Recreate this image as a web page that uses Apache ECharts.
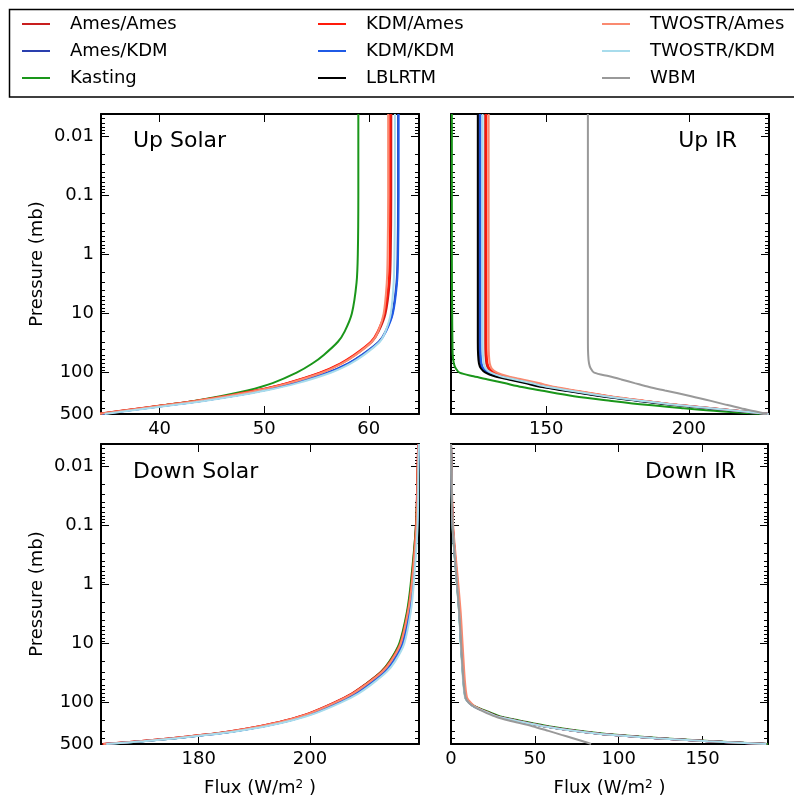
<!DOCTYPE html>
<html>
<head>
<meta charset="utf-8">
<style>
  html, body { margin: 0; padding: 0; background: #fff; }
  #chart { width: 794px; height: 800px; }
</style>
<script src="https://cdn.jsdelivr.net/npm/echarts@6/dist/echarts.min.js"></script>
</head>
<body>
<div id="chart"></div>
<script>
// legend order (alphabetical, like the original plot)
const seriesNames = ['Ames/Ames', 'Ames/KDM', 'Kasting', 'KDM/Ames', 'KDM/KDM', 'LBLRTM', 'TWOSTR/Ames', 'TWOSTR/KDM', 'WBM']
const seriesColors = ['#c81e1e', '#2a3fae', '#1a961a', '#ff1a0a', '#1f5ae6', '#000000', '#fa8a70', '#a8dcec', '#999999']

// pressure levels (mb) used by each panel
const solarPressure = [0.0042, 0.01, 0.1, 1, 3, 10, 20, 30, 50, 70, 100, 150, 200, 250, 300, 350, 400, 450, 500]
const upIrPressure = [0.0042, 0.01, 0.1, 1, 10, 30, 50, 70, 85, 100, 115, 130, 150, 175, 200, 250, 300, 350, 400, 450, 500]
const downIrPressure = [0.0042, 0.01, 0.1, 1, 3, 10, 30, 50, 70, 85, 100, 115, 130, 150, 175, 200, 250, 300, 350, 400, 450, 500]

// flux (W/m2)
const upSolarFlux = {
  'Ames/Ames': [62.15, 62.15, 62.15, 62.1, 62.0, 61.6, 60.95, 60.3, 58.7, 57.35, 55.4, 52.25, 49.25, 46.25, 43.45, 40.75, 38.25, 36.05, 34.1],
  'Ames/KDM': [62.8, 62.8, 62.8, 62.75, 62.65, 62.25, 61.6, 60.95, 59.35, 58.0, 56.05, 52.9, 49.85, 46.8, 43.95, 41.2, 38.65, 36.4, 34.45],
  'Kasting': [59.0, 59.0, 59.0, 58.95, 58.83, 58.38, 57.7, 57.05, 55.7, 54.6, 53.1, 50.8, 48.4, 45.8, 43.3, 40.7, 38.4, 36.2, 34.2],
  'KDM/Ames': [62.05, 62.05, 62.05, 62.0, 61.9, 61.5, 60.85, 60.2, 58.6, 57.25, 55.3, 52.15, 49.15, 46.15, 43.35, 40.65, 38.15, 35.95, 34.0],
  'KDM/KDM': [62.85, 62.85, 62.85, 62.8, 62.7, 62.3, 61.65, 61.0, 59.4, 58.05, 56.1, 52.95, 49.9, 46.85, 44.0, 41.25, 38.7, 36.45, 34.5],
  'TWOSTR/Ames': [61.85, 61.85, 61.85, 61.8, 61.72, 61.42, 60.9, 60.3, 58.75, 57.42, 55.5, 52.35, 49.35, 46.35, 43.5, 40.8, 38.3, 36.1, 34.15],
  'TWOSTR/KDM': [62.5, 62.5, 62.5, 62.45, 62.38, 62.1, 61.6, 61.05, 59.55, 58.25, 56.35, 53.2, 50.15, 47.1, 44.25, 41.5, 38.95, 36.7, 34.75]
}

const upIrFlux = {
  'Ames/Ames': [128.6, 128.6, 128.6, 128.6, 128.6, 128.6, 128.7, 129.0, 129.7, 131.5, 135.0, 140.0, 145.7, 151.6, 158.8, 171.4, 184.1, 195.6, 207.8, 218.7, 228.0],
  'Ames/KDM': [126.5, 126.5, 126.5, 126.5, 126.5, 126.5, 126.6, 126.9, 127.6, 129.4, 132.8, 137.8, 143.5, 149.6, 157.0, 170.0, 183.0, 194.7, 207.1, 218.2, 228.0],
  'Kasting': [116.9, 116.9, 116.9, 116.9, 117.0, 117.1, 117.2, 117.6, 118.3, 119.6, 124.5, 129.5, 135.3, 141.5, 148.1, 159.7, 172.9, 185.0, 198.1, 210.8, 226.0],
  'KDM/Ames': [129.0, 129.0, 129.0, 129.0, 129.0, 129.0, 129.1, 129.4, 130.1, 131.9, 135.4, 140.4, 146.1, 152.0, 159.1, 171.7, 184.3, 195.8, 207.9, 218.8, 228.0],
  'KDM/KDM': [126.9, 126.9, 126.9, 126.9, 126.9, 126.9, 127.0, 127.3, 128.0, 129.8, 133.2, 138.2, 143.9, 150.0, 157.4, 170.3, 183.2, 194.9, 207.3, 218.3, 228.0],
  'LBLRTM': [126.0, 126.0, 126.0, 126.0, 126.0, 126.0, 126.1, 126.4, 127.1, 128.7, 131.9, 136.8, 142.5, 148.6, 156.1, 169.2, 182.3, 194.1, 206.7, 217.9, 228.0],
  'TWOSTR/Ames': [129.8, 129.8, 129.8, 129.8, 129.8, 129.8, 129.9, 130.2, 130.9, 132.8, 136.5, 141.6, 147.3, 153.1, 160.1, 172.4, 184.9, 196.2, 208.2, 219.0, 228.0],
  'TWOSTR/KDM': [127.7, 127.7, 127.7, 127.7, 127.7, 127.7, 127.8, 128.1, 128.8, 130.6, 134.0, 139.0, 144.7, 150.7, 158.0, 170.8, 183.6, 195.2, 207.5, 218.5, 228.0],
  'WBM': [164.6, 164.6, 164.6, 164.6, 164.6, 164.6, 164.7, 165.0, 165.6, 166.8, 172.1, 176.3, 181.0, 186.1, 191.6, 200.8, 207.7, 213.2, 218.2, 223.1, 227.5]
}

const downSolarFlux = {
  'Ames/Ames': [219.45, 219.35, 219.05, 218.2, 217.5, 216.15, 214.35, 212.8, 209.8, 207.5, 204.3, 199.9, 195.5, 190.9, 186.0, 180.7, 175.1, 169.2, 162.7],
  'Ames/KDM': [219.55, 219.45, 219.25, 218.45, 217.85, 216.65, 214.95, 213.45, 210.55, 208.3, 205.1, 200.7, 196.3, 191.7, 186.7, 181.4, 175.8, 169.8, 163.1],
  'Kasting': [219.5, 219.4, 219.05, 218.1, 217.4, 216.05, 214.3, 212.8, 209.9, 207.7, 204.6, 200.3, 196.0, 191.45, 186.6, 181.3, 175.8, 169.9, 163.5],
  'KDM/Ames': [219.45, 219.35, 219.1, 218.25, 217.55, 216.25, 214.45, 212.9, 209.9, 207.6, 204.4, 200.0, 195.6, 191.0, 186.1, 180.8, 175.2, 169.3, 162.8],
  'KDM/KDM': [219.55, 219.45, 219.25, 218.5, 217.9, 216.7, 215.0, 213.5, 210.6, 208.35, 205.2, 200.8, 196.4, 191.8, 186.8, 181.5, 175.9, 169.9, 163.2],
  'TWOSTR/Ames': [219.5, 219.4, 219.15, 218.3, 217.6, 216.3, 214.55, 213.0, 210.0, 207.7, 204.5, 200.1, 195.7, 191.1, 186.2, 180.9, 175.3, 169.4, 162.9],
  'TWOSTR/KDM': [219.6, 219.5, 219.35, 218.65, 218.1, 216.95, 215.3, 213.8, 210.95, 208.7, 205.55, 201.1, 196.7, 192.1, 187.1, 181.7, 176.1, 170.1, 163.4]
}

const downIrFlux = {
  'Ames/Ames': [0.0, 0.2, 1.1, 3.9, 5.2, 6.2, 7.3, 7.9, 8.5, 9.1, 11.1, 13.8, 17.6, 23.1, 29.0, 38.7, 55.6, 74.8, 95.5, 122.7, 153.9, 188.0],
  'Ames/KDM': [0.0, 0.2, 1.0, 3.7, 5.0, 6.0, 7.1, 7.7, 8.3, 8.9, 10.9, 13.6, 17.4, 22.9, 28.8, 38.5, 55.4, 74.6, 95.3, 122.5, 153.7, 188.0],
  'Kasting': [0.0, 0.2, 0.9, 3.6, 4.9, 5.9, 7.0, 7.6, 8.2, 8.8, 11.0, 14.3, 18.5, 24.3, 30.6, 40.6, 58.0, 77.5, 98.5, 125.8, 156.5, 189.0],
  'KDM/Ames': [0.0, 0.2, 1.1, 3.9, 5.2, 6.2, 7.3, 7.9, 8.5, 9.1, 11.2, 13.9, 17.7, 23.2, 29.1, 38.8, 55.7, 74.9, 95.6, 122.8, 154.0, 188.0],
  'KDM/KDM': [0.0, 0.2, 1.0, 3.7, 5.0, 6.0, 7.1, 7.7, 8.3, 8.9, 10.8, 13.5, 17.3, 22.8, 28.7, 38.4, 55.3, 74.5, 95.2, 122.4, 153.6, 188.0],
  'LBLRTM': [0.0, 0.2, 1.0, 3.8, 5.1, 6.1, 7.2, 7.8, 8.4, 9.0, 11.0, 13.7, 17.5, 23.0, 28.9, 38.6, 55.5, 74.7, 95.4, 122.6, 153.8, 188.0],
  'TWOSTR/Ames': [0.0, 0.3, 1.3, 4.4, 5.8, 6.9, 7.9, 8.5, 9.1, 9.8, 11.8, 14.1, 17.6, 22.8, 28.6, 38.3, 55.2, 74.4, 95.1, 122.3, 153.5, 188.0],
  'TWOSTR/KDM': [0.0, 0.2, 0.9, 3.5, 4.8, 5.8, 6.8, 7.4, 8.0, 8.6, 10.6, 13.3, 17.1, 22.5, 28.4, 38.0, 54.8, 74.0, 94.7, 122.0, 153.3, 188.0],
  'WBM': [0.0, 0.2, 1.0, 3.6, 4.9, 6.0, 7.0, 7.6, 8.2, 8.8, 10.6, 13.3, 16.6, 21.3, 27.2, 34.5, 48.5, 58.1, 65.9, 72.7, 78.6, 83.5]
}

// axis ticks
const pressureTicks = [0.01, 0.1, 1, 10, 100]
const pressureLabels = [0.01, 0.1, 1, 10, 100, 500]
const pressureMinorTicks = [
  0.005, 0.006, 0.007, 0.008, 0.009,
  0.02, 0.03, 0.04, 0.05, 0.06, 0.07, 0.08, 0.09,
  0.2, 0.3, 0.4, 0.5, 0.6, 0.7, 0.8, 0.9,
  2, 3, 4, 5, 6, 7, 8, 9,
  20, 30, 40, 50, 60, 70, 80, 90,
  200, 300, 400
]
const upSolarTicks = [40, 50, 60]
const upIrTicks = [150, 200]
const downSolarTicks = [180, 200]
const downIrTicks = [0, 50, 100, 150]

const FONT = 'DejaVu Sans'
const P_MIN = 0.0042
const P_MAX = 500

const panels = [
  { title: 'Up Solar', flux: upSolarFlux, pressure: solarPressure, xMin: 34.4, xMax: 64.8, ticks: upSolarTicks,
    grid: { left: 101, top: 114, width: 318, height: 300 }, yName: true, xName: false },
  { title: 'Up IR', flux: upIrFlux, pressure: upIrPressure, xMin: 116.6, xMax: 228.1, ticks: upIrTicks,
    grid: { left: 451, top: 114, width: 318, height: 300 }, yName: false, xName: false },
  { title: 'Down Solar', flux: downSolarFlux, pressure: solarPressure, xMin: 162.45, xMax: 219.6, ticks: downSolarTicks,
    grid: { left: 101, top: 444, width: 318, height: 300 }, yName: true, xName: true },
  { title: 'Down IR', flux: downIrFlux, pressure: downIrPressure, xMin: 0, xMax: 189, ticks: downIrTicks,
    grid: { left: 451, top: 444, width: 317, height: 300 }, yName: false, xName: true }
]

const frameLine = { show: true, lineStyle: { color: '#000', width: 2 } }
const tickStyle = { color: '#000', width: 1 }

const xAxes = []
const yAxes = []
const series = []

panels.forEach((p, i) => {
  const xBase = {
    gridIndex: i, type: 'value', min: p.xMin, max: p.xMax,
    splitLine: { show: false }, axisLine: frameLine
  }
  xAxes.push({
    ...xBase,
    position: 'bottom',
    axisTick: { show: true, inside: true, length: 8, customValues: p.ticks, lineStyle: tickStyle },
    axisLabel: { show: true, customValues: p.ticks, margin: 6, fontSize: 18, color: '#000', fontFamily: FONT },
    name: p.xName ? 'Flux (W/m{sup|2} )' : '',
    nameLocation: 'middle',
    nameGap: 35,
    nameTextStyle: {
      fontSize: 18, color: '#000', fontFamily: FONT, verticalAlign: 'top',
      rich: { sup: { fontSize: 12, color: '#000', fontFamily: FONT, verticalAlign: 'top' } }
    }
  })
  xAxes.push({
    ...xBase,
    position: 'top',
    axisTick: { show: true, inside: true, length: 8, customValues: p.ticks, lineStyle: tickStyle },
    axisLabel: { show: false }
  })

  const yBase = {
    gridIndex: i, type: 'log', logBase: 10, inverse: true, min: P_MIN, max: P_MAX,
    splitLine: { show: false }, minorTick: { show: false }
  }
  ;['left', 'right'].forEach((side) => {
    yAxes.push({
      ...yBase,
      position: side,
      axisLine: frameLine,
      axisTick: { show: true, inside: true, length: 8, customValues: pressureTicks, lineStyle: tickStyle },
      axisLabel: {
        show: side === 'left' && p.yName,
        customValues: pressureLabels,
        showMinLabel: true,
        showMaxLabel: true,
        margin: 7,
        fontSize: 18,
        color: '#000',
        fontFamily: FONT,
        formatter: (v) => String(+Number(v).toPrecision(4))
      },
      name: side === 'left' && p.yName ? 'Pressure (mb)' : '',
      nameLocation: 'middle',
      nameGap: 55,
      nameTextStyle: { fontSize: 18, color: '#000', fontFamily: FONT }
    })
    yAxes.push({
      ...yBase,
      position: side,
      axisLine: { show: false },
      axisTick: { show: true, inside: true, length: 4, customValues: pressureMinorTicks, lineStyle: tickStyle },
      axisLabel: { show: false }
    })
  })

  seriesNames.forEach((name, k) => {
    const values = p.flux[name]
    if (!values) return
    series.push({
      type: 'line',
      name,
      xAxisIndex: i * 2,
      yAxisIndex: i * 4,
      data: p.pressure.map((pr, j) => [values[j], pr]),
      symbol: 'none',
      smooth: 0.3,
      color: seriesColors[k],
      lineStyle: { color: seriesColors[k], width: 2 },
      itemStyle: { color: seriesColors[k] },
      silent: true,
      animation: false
    })
  })
})

const legendLefts = [22, 318, 602]

const option = {
  backgroundColor: '#fff',
  animation: false,
  textStyle: { fontFamily: FONT },
  title: [
    { text: 'Up Solar', left: 133, top: 130 },
    { text: 'Up IR', right: 57, top: 130 },
    { text: 'Down Solar', left: 133, top: 461 },
    { text: 'Down IR', right: 58, top: 461 }
  ].map((t) => ({
    ...t,
    padding: 0,
    textStyle: { fontSize: 22, fontWeight: 'normal', color: '#000', fontFamily: FONT }
  })),
  legend: legendLefts.map((left, c) => ({
    orient: 'vertical',
    left,
    top: 15,
    padding: 0,
    data: seriesNames.slice(c * 3, c * 3 + 3),
    icon: 'rect',
    itemWidth: 28,
    itemHeight: 2,
    itemGap: 9,
    selectedMode: false,
    textStyle: { fontSize: 18, lineHeight: 18, color: '#000', fontFamily: FONT, padding: [0, 0, 0, 15] }
  })),
  graphic: [
    {
      type: 'rect',
      shape: { x: 9.5, y: 9.5, width: 800, height: 87.5 },
      style: { fill: 'none', stroke: '#000', lineWidth: 1.5 },
      silent: true
    }
  ],
  grid: panels.map((p) => ({ ...p.grid, containLabel: false })),
  xAxis: xAxes,
  yAxis: yAxes,
  series
}

const chart = echarts.init(document.getElementById('chart'), null, { renderer: 'canvas' })
chart.setOption(option)
</script>
</body>
</html>
